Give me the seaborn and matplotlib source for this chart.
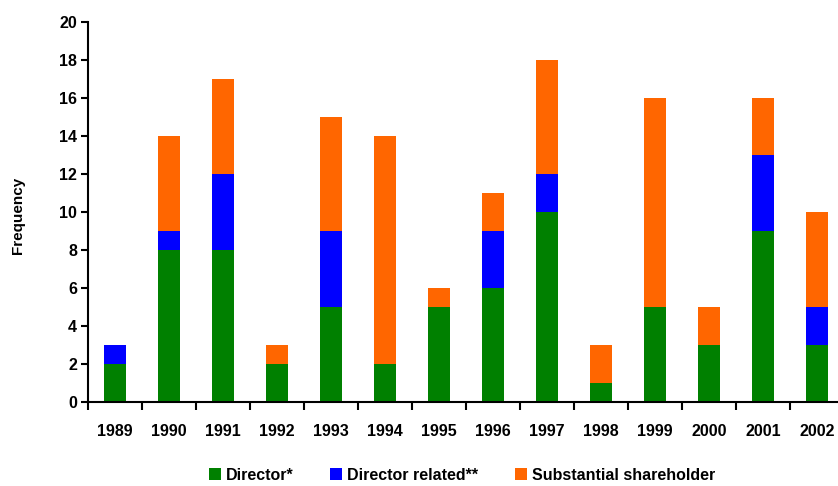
import matplotlib
matplotlib.use("Agg")
import matplotlib.pyplot as plt
import seaborn as sns
import pandas as pd
import numpy as np
from matplotlib.patches import Patch

years = ["1989", "1990", "1991", "1992", "1993", "1994", "1995",
         "1996", "1997", "1998", "1999", "2000", "2001", "2002"]
director = [2, 8, 8, 2, 5, 2, 5, 6, 10, 1, 5, 3, 9, 3]
director_related = [1, 1, 4, 0, 4, 0, 0, 3, 2, 0, 0, 0, 4, 2]
substantial = [0, 5, 5, 1, 6, 12, 1, 2, 6, 2, 11, 2, 3, 5]

series_names = ["Director*", "Director related**", "Substantial shareholder"]
colors = ["#008000", "#0000FF", "#FF6600"]

sns.set_theme(style="white")
plt.rcParams["font.family"] = ["Liberation Sans", "DejaVu Sans"]
plt.rcParams["font.weight"] = "bold"
for key in ["text.color", "axes.labelcolor", "xtick.color", "ytick.color"]:
    plt.rcParams[key] = "black"

df = pd.DataFrame({"year": years, "d": director, "r": director_related, "s": substantial})
df["c1"] = df["d"]
df["c2"] = df["d"] + df["r"]
df["c3"] = df["c2"] + df["s"]

fig = plt.figure(figsize=(8.38, 4.86), dpi=100)
ax = fig.add_axes([88 / 838, 1 - 402 / 486, 756 / 838, 380 / 486])

# stacked bars: draw cumulative totals from the top segment down
for col, color in zip(["c3", "c2", "c1"], colors[::-1]):
    sns.barplot(data=df, x="year", y=col, color=color, width=0.42,
                saturation=1, ax=ax, linewidth=0, order=years)

ax.set_ylim(0, 20)
ax.set_xlim(-0.5, len(years) - 0.5)
ax.set_yticks(np.arange(0, 21, 2))
ax.set_xlabel("")
ax.set_ylabel("")
fig.text(18 / 838, 1 - 215 / 486, "Frequency", rotation=90, ha="center", va="center",
         fontsize=11, fontweight="bold")

for s in ["top", "right"]:
    ax.spines[s].set_visible(False)
for s in ["left", "bottom"]:
    ax.spines[s].set_color("black")
    ax.spines[s].set_linewidth(1.5)

ax.tick_params(axis="y", which="major", direction="out", length=5, width=1.5,
               labelsize=11.5, pad=3, left=True)
ax.tick_params(axis="x", which="major", length=0, labelsize=11.5, pad=16)
ax.set_xticks(np.arange(-0.5, len(years), 1), minor=True)
ax.tick_params(axis="x", which="minor", direction="out", length=6, width=1.5,
               bottom=True)
for lbl in ax.get_xticklabels() + ax.get_yticklabels():
    lbl.set_fontweight("bold")

handles = [Patch(facecolor=c, edgecolor="none", label=n) for c, n in zip(colors, series_names)]
fig.legend(handles=handles, loc="center", bbox_to_anchor=(462 / 838, 1 - 475 / 486),
           ncol=3, frameon=False, prop={"weight": "bold", "size": 11.5},
           handlelength=0.75, handleheight=0.75, handletextpad=0.3, columnspacing=2.3)

fig.savefig("out.png", dpi=100)
